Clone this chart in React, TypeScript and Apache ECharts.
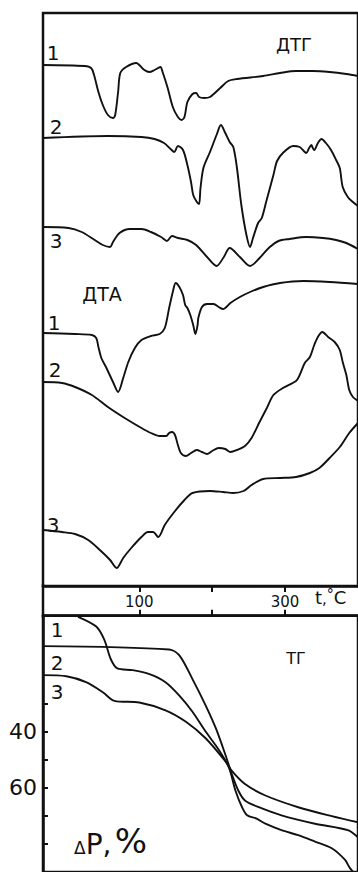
import React, { useEffect, useRef } from "react";
import * as echarts from "echarts";

// Temperature axis
const tempTicks = [100, 200, 300];
const tempLabels = [100, 300];
// TG mass-loss axis (ΔP, %)
const tgTicks = [30, 40, 50, 60, 70, 80];
const tgLabels = [40, 60];

// DTG curves: [t, °C ; signal, arbitrary units]
const dtg1 = [[-32,521],[25,520],[34,518],[38,511],[44,494],[50,481],[57,471],[64,468],[67,471],[71,494],[74,513],[82,519],[96,523],[100,521],[107,516],[114,514],[121,516],[129,519],[132,514],[139,498],[146,479],[153,469],[158,466],[162,469],[166,484],[173,492],[178,493],[182,489],[189,488],[197,489],[211,498],[222,505],[234,507],[270,510],[293,513],[315,515],[338,515],[361,514],[384,512],[400,510]];
const dtg2 = [[-32,448],[57,450],[103,449],[121,447],[134,443],[143,437],[148,434],[153,440],[160,436],[166,421],[171,404],[174,391],[179,384],[182,382],[184,398],[188,418],[197,434],[206,451],[212,461],[218,453],[224,444],[229,439],[234,418],[240,381],[247,351],[252,339],[256,348],[263,363],[268,368],[274,384],[284,411],[289,425],[297,433],[311,440],[320,439],[327,434],[329,433],[333,438],[336,441],[338,438],[340,436],[345,443],[350,447],[356,443],[363,436],[370,426],[375,418],[379,399],[386,389],[393,384],[400,380]];
const dtg3 = [[-32,359],[3,358],[21,354],[39,346],[50,341],[60,339],[64,344],[73,353],[87,357],[103,357],[116,354],[130,349],[138,345],[145,350],[153,348],[166,346],[178,341],[193,329],[206,320],[216,329],[224,338],[238,329],[252,320],[265,328],[279,339],[291,345],[306,347],[329,349],[352,348],[370,346],[384,343],[400,337]];

// DTA curves
const dta1 = [[-32,253],[12,252],[35,251],[41,248],[44,239],[48,228],[55,218],[64,204],[71,194],[78,208],[85,224],[94,238],[103,246],[116,250],[128,252],[135,258],[141,278],[146,294],[150,303],[155,299],[160,291],[163,281],[166,278],[170,271],[174,261],[177,252],[180,261],[181,268],[186,279],[193,282],[202,282],[209,279],[215,277],[225,283],[238,289],[252,294],[270,299],[293,303],[325,305],[361,304],[400,302]];
const dta2 = [[-32,204],[-6,203],[12,199],[35,191],[57,179],[80,168],[103,158],[116,153],[128,150],[137,150],[141,153],[145,154],[149,151],[153,141],[157,133],[164,130],[171,133],[179,136],[186,134],[193,132],[200,135],[209,138],[218,137],[225,134],[234,136],[245,140],[254,148],[265,164],[275,178],[284,191],[297,198],[315,205],[320,211],[327,223],[334,229],[340,241],[345,249],[351,254],[359,249],[368,244],[375,236],[379,224],[384,211],[388,196],[393,189],[400,185]];
const dta3 = [[-32,56],[-6,54],[12,52],[30,46],[46,36],[60,26],[69,18],[78,28],[89,38],[103,49],[112,54],[119,54],[126,49],[135,61],[148,74],[162,86],[173,93],[197,95],[215,94],[229,93],[243,95],[254,101],[270,107],[293,108],[315,109],[334,113],[347,118],[361,128],[375,139],[388,153],[400,163]];

// TG curves: [t, °C ; ΔP, %]
const tg1 = [[16,-1.2],[41,2.3],[52,7],[61,14],[70,17.3],[91,17.9],[114,19.3],[136,22.2],[155,27],[173,32.8],[191,39.9],[209,46.4],[223,52.8],[232,61.1],[241,67],[248,69.9],[261,71.1],[273,72.9],[295,75.2],[318,77],[341,79.3],[364,81.7],[382,85.8],[389,88.8],[400,92]];
const tg2 = [[-32,9.3],[141,10.5],[155,12.6],[173,21.1],[191,30.5],[205,38.7],[218,48.1],[227,55.2],[236,61.1],[245,64.6],[264,67],[295,69.9],[341,72.9],[386,75.2],[400,77.8]];
const tg3 = [[-32,19.7],[0,20.1],[27,22.2],[50,25.8],[66,28.9],[100,29.5],[136,32.3],[164,36.4],[191,42.3],[218,50.5],[227,54],[245,58.7],[273,62.8],[318,67],[364,70.2],[400,72.4]];

const FONT = "DejaVu Sans";
const INK = "#111";

function txt(text: string, x: number, y: number, size: number, align = "center") {
  return {
    type: "text",
    x,
    y,
    silent: true,
    style: {
      text,
      font: `${size}px "${FONT}"`,
      fill: INK,
      align,
      textAlign: align,
      verticalAlign: "middle",
      textVerticalAlign: "middle",
    },
  };
}

export default function App() {
  const ref = useRef<HTMLDivElement>(null);
  useEffect(() => {
    if (!ref.current) return;
    const chart = echarts.init(ref.current, undefined, { renderer: "svg" });
    const lineSeries = (data: number[][], xi: number, yi: number) => ({
      type: "line",
      data,
      xAxisIndex: xi,
      yAxisIndex: yi,
      showSymbol: false,
      smooth: 0.3,
      lineStyle: { color: INK, width: 1.9 },
      silent: true,
    });
    const frame = { show: true, borderColor: INK, borderWidth: 2.5, backgroundColor: "transparent" };
    chart.setOption({
      animation: false,
      backgroundColor: "#fff",
      grid: [
        { left: 43, top: 13, width: 316.8, height: 573, ...frame },
        { left: 43, top: 615.7, width: 316.8, height: 260, ...frame },
      ],
      xAxis: [
        {
          type: "value",
          gridIndex: 0,
          min: -32,
          max: 400,
          position: "bottom",
          splitLine: { show: false },
          axisLine: { show: true, onZero: false, lineStyle: { color: INK, width: 2.5 } },
          axisTick: { show: true, customValues: tempTicks, length: 6, inside: false, lineStyle: { color: INK, width: 2 } },
          axisLabel: { show: true, customValues: tempLabels, margin: 8, color: INK, fontFamily: FONT, fontSize: 15 },
        },
        {
          type: "value",
          gridIndex: 1,
          min: -32,
          max: 400,
          position: "top",
          splitLine: { show: false },
          axisLine: { show: true, onZero: false, lineStyle: { color: INK, width: 2.5 } },
          axisTick: { show: true, customValues: tempTicks, length: 6, inside: false, lineStyle: { color: INK, width: 2 } },
          axisLabel: { show: false },
        },
      ],
      yAxis: [
        { type: "value", gridIndex: 0, min: 0, max: 573, show: false },
        {
          type: "value",
          gridIndex: 1,
          min: -1.6,
          max: 90.2,
          inverse: true,
          position: "left",
          splitLine: { show: false },
          axisLine: { show: true, onZero: false, lineStyle: { color: INK, width: 2.5 } },
          axisTick: { show: true, customValues: tgTicks, length: 5, inside: true, lineStyle: { color: INK, width: 2 } },
          axisLabel: { show: true, customValues: tgLabels, margin: 6, color: INK, fontFamily: FONT, fontSize: 22 },
        },
      ],
      series: [
        lineSeries(dtg1, 0, 0),
        lineSeries(dtg2, 0, 0),
        lineSeries(dtg3, 0, 0),
        lineSeries(dta1, 0, 0),
        lineSeries(dta2, 0, 0),
        lineSeries(dta3, 0, 0),
        lineSeries(tg1, 1, 1),
        lineSeries(tg2, 1, 1),
        lineSeries(tg3, 1, 1),
      ],
      graphic: [
        { type: "line", silent: true, shape: { x1: 43, y1: 584, x2: 43, y2: 618 }, style: { stroke: INK, lineWidth: 2.5 } },
        txt("ДТГ", 294, 44, 18),
        txt("ДТА", 102, 294, 19),
        txt("ТГ", 296, 658, 16),
        txt("1", 53, 53, 20),
        txt("2", 56, 127, 20),
        txt("3", 56, 241, 20),
        txt("1", 54, 323, 20),
        txt("2", 55, 370, 20),
        txt("3", 53, 525, 20),
        txt("1", 57, 630, 20),
        txt("2", 57, 663, 20),
        txt("3", 57, 692, 20),
        {
          type: "text",
          x: 315,
          y: 606,
          silent: true,
          style: {
            text: "{a|t}{b|,}{c|°}{d|C}",
            fill: INK,
            align: "left",
            textAlign: "left",
            verticalAlign: "bottom",
            textVerticalAlign: "bottom",
            rich: {
              a: { fontFamily: FONT, fontSize: 18, color: INK, verticalAlign: "bottom" },
              b: { fontFamily: FONT, fontSize: 15, color: INK, verticalAlign: "bottom" },
              c: { fontFamily: FONT, fontSize: 14, color: INK, verticalAlign: "bottom", padding: [0, 0, 5, 0] },
              d: { fontFamily: FONT, fontSize: 18, color: INK, verticalAlign: "bottom" },
            },
          },
        },
        {
          type: "text",
          x: 74,
          y: 858,
          silent: true,
          style: {
            text: "{a|Δ}{b|P,} {c|%}",
            fill: INK,
            align: "left",
            textAlign: "left",
            verticalAlign: "bottom",
            textVerticalAlign: "bottom",
            rich: {
              a: { fontFamily: FONT, fontSize: 17, color: INK, verticalAlign: "bottom", padding: [0, 0, 2, 0] },
              b: { fontFamily: FONT, fontSize: 28, color: INK, verticalAlign: "bottom" },
              c: { fontFamily: FONT, fontSize: 34, color: INK, verticalAlign: "bottom" },
            },
          },
        },
      ],
    });
    return () => chart.dispose();
  }, []);
  return (
    <div
      ref={ref}
      style={{ position: "fixed", left: 0, top: 0, width: 358, height: 872, background: "#fff" }}
    />
  );
}
